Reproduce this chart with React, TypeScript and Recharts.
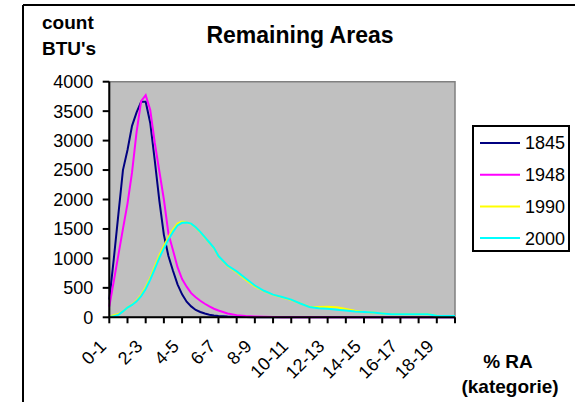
import { LineChart, Line, XAxis, YAxis, ReferenceArea, Legend } from 'recharts'

const categories = [
  '0-1', '1-2', '2-3', '3-4', '4-5', '5-6', '6-7', '7-8', '8-9', '9-10',
  '10-11', '11-12', '12-13', '13-14', '14-15', '15-16', '16-17', '17-18', '18-19', '19-20',
]

// sample positions along the category axis (finer where the curves are steep)
const positions = [
  0, 0.25, 0.5, 0.75, 1, 1.25, 1.5, 1.75, 2, 2.25, 2.5, 2.75, 3, 3.25, 3.5, 3.75,
  4, 4.25, 4.5, 4.75, 5, 5.25, 5.5, 5.75, 6,
  6.5, 7, 7.5, 8, 8.5, 9, 9.5, 10, 10.5, 11, 11.5, 12, 12.5, 13, 13.5,
  14, 14.5, 15, 15.5, 16, 16.5, 17, 17.5, 18, 18.5, 19,
]

const s1845 = [
  300, 1000, 1750, 2500, 2840, 3250, 3480, 3660, 3660, 3300, 2660, 1980, 1400, 1040, 790, 560,
  390, 265, 185, 125, 90, 65, 45, 32, 22,
  12, 6, 3, 1, 0, 0, 0, 0, 0, 0, 0, 0, 0, 0, 0,
  0, 0, 0, 0, 0, 0, 0, 0, 0, 0, 0,
]

const s1948 = [
  180, 620, 1060, 1500, 1930, 2460, 3150, 3670, 3770, 3520, 2960, 2480, 2000, 1420, 1140, 850,
  650, 520, 410, 340, 280, 230, 185, 145, 115,
  65, 37, 23, 15, 10, 5, 2, 0, 0, 0, 0, 0, 0, 0, 0,
  0, 0, 0, 0, 0, 0, 0, 0, 0, 0, 0,
]

const s1990 = [
  10, 35, 55, 100, 165, 215, 285, 380, 510, 670, 860, 1050, 1210, 1360, 1490, 1590,
  1625, 1610, 1585, 1525, 1445, 1355, 1265, 1175, 1035,
  870, 765, 640, 525, 445, 380, 340, 295, 235, 180, 175, 180, 170, 140, 110,
  92, 80, 65, 52, 50, 50, 50, 50, 28, 22, 22,
]

const s2000 = [
  5, 20, 40, 100, 165, 210, 270, 360, 480, 640, 820, 1010, 1170, 1320, 1450, 1560,
  1605, 1610, 1590, 1530, 1450, 1360, 1270, 1180, 1040,
  880, 780, 660, 540, 450, 385, 345, 300, 235, 175, 155, 145, 130, 115, 100,
  90, 80, 65, 52, 50, 50, 50, 50, 25, 22, 22,
]

const yTicks = [0, 500, 1000, 1500, 2000, 2500, 3000, 3500, 4000]
const xTicks = categories.map((_, i) => i)

const data = positions.map((x, i) => ({
  x,
  s1845: s1845[i],
  s1948: s1948[i],
  s1990: s1990[i],
  s2000: s2000[i],
}))

const FONT = '"Liberation Sans", Arial, sans-serif'

function XTick({ x, y, payload }: any) {
  const i = payload.value as number
  if (i % 2 !== 0) return <g />
  const px = x - 2
  const py = y + 22
  return (
    <text
      x={px}
      y={py}
      transform={`rotate(-45, ${px}, ${py})`}
      textAnchor="end"
      fontSize={18}
      fontFamily={FONT}
      fill="#000"
    >
      {categories[i]}
    </text>
  )
}

function LegendBox({ payload }: any) {
  const rows = payload || []
  return (
    <svg width={98} height={127} style={{ display: 'block' }}>
      <rect x={1} y={1} width={96} height={125} fill="#fff" stroke="#000" strokeWidth={2} />
      {rows.map((p: any, i: number) => {
        const cy = 18 + i * 31.7
        return (
          <g key={p.value}>
            <line x1={8} x2={48} y1={cy} y2={cy} stroke={p.color} strokeWidth={2} />
            <text x={53} y={cy} dy="0.36em" fontSize={18} fontFamily={FONT} fill="#000">
              {p.value}
            </text>
          </g>
        )
      })}
    </svg>
  )
}

export default function App() {
  return (
    <div
      style={{
        position: 'fixed', left: 0, top: 0, width: 575, height: 402,
        overflow: 'hidden', background: '#fff', fontFamily: FONT,
      }}
    >
      <div style={{ position: 'absolute', left: 0, top: 0 }}>
        <LineChart
          width={575}
          height={402}
          data={data}
          margin={{ top: 81.7, right: 120, bottom: 4.7, left: 9.3 }}
        >
          <ReferenceArea x1={0} x2={19} y1={0} y2={4000} fill="#C0C0C0" fillOpacity={1} stroke="#808080" strokeWidth={1.5} />
          <XAxis
            type="number"
            dataKey="x"
            domain={[0, 19]}
            ticks={xTicks}
            interval={0}
            height={80}
            tickSize={6}
            tick={<XTick />}
            axisLine={{ stroke: '#000', strokeWidth: 2 }}
            tickLine={{ stroke: '#000', strokeWidth: 2 }}
          />
          <YAxis
            type="number"
            domain={[0, 4000]}
            ticks={yTicks}
            interval={0}
            width={100}
            tickSize={6.6}
            tickMargin={9.4}
            tick={{ fontSize: 18, fill: '#000', fontFamily: FONT }}
            axisLine={{ stroke: '#000', strokeWidth: 2 }}
            tickLine={{ stroke: '#000', strokeWidth: 2 }}
          />
          <Legend
            layout="vertical"
            align="center"
            verticalAlign="middle"
            content={<LegendBox />}
            wrapperStyle={{ position: 'absolute', left: 472, top: 125, width: 98, height: 127 }}
          />
          <Line type="linear" dataKey="s1845" name="1845" stroke="#000080" strokeWidth={2} dot={false} isAnimationActive={false} />
          <Line type="linear" dataKey="s1948" name="1948" stroke="#FF00FF" strokeWidth={2} dot={false} isAnimationActive={false} />
          <Line type="linear" dataKey="s1990" name="1990" stroke="#FFFF00" strokeWidth={2} dot={false} isAnimationActive={false} />
          <Line type="linear" dataKey="s2000" name="2000" stroke="#00FFFF" strokeWidth={2} dot={false} isAnimationActive={false} />
        </LineChart>
      </div>
      <svg
        width={575}
        height={402}
        style={{ position: 'absolute', left: 0, top: 0, pointerEvents: 'none' }}
      >
        <line x1={23} y1={5} x2={23} y2={402} stroke="#000" strokeWidth={2} />
        <line x1={23} y1={5} x2={575} y2={5} stroke="#000" strokeWidth={2} />
        <text x={42} y={29.3} fontSize={19} fontWeight="bold" fontFamily={FONT}>count</text>
        <text x={42} y={55} fontSize={19} fontWeight="bold" fontFamily={FONT}>BTU's</text>
        <text x={300} y={43.3} fontSize={23} fontWeight="bold" fontFamily={FONT} textAnchor="middle">
          Remaining Areas
        </text>
        <text x={508} y={368} fontSize={19} fontWeight="bold" fontFamily={FONT} textAnchor="middle">% RA</text>
        <text x={510} y={393} fontSize={19} fontWeight="bold" fontFamily={FONT} textAnchor="middle">(kategorie)</text>
      </svg>
    </div>
  )
}
